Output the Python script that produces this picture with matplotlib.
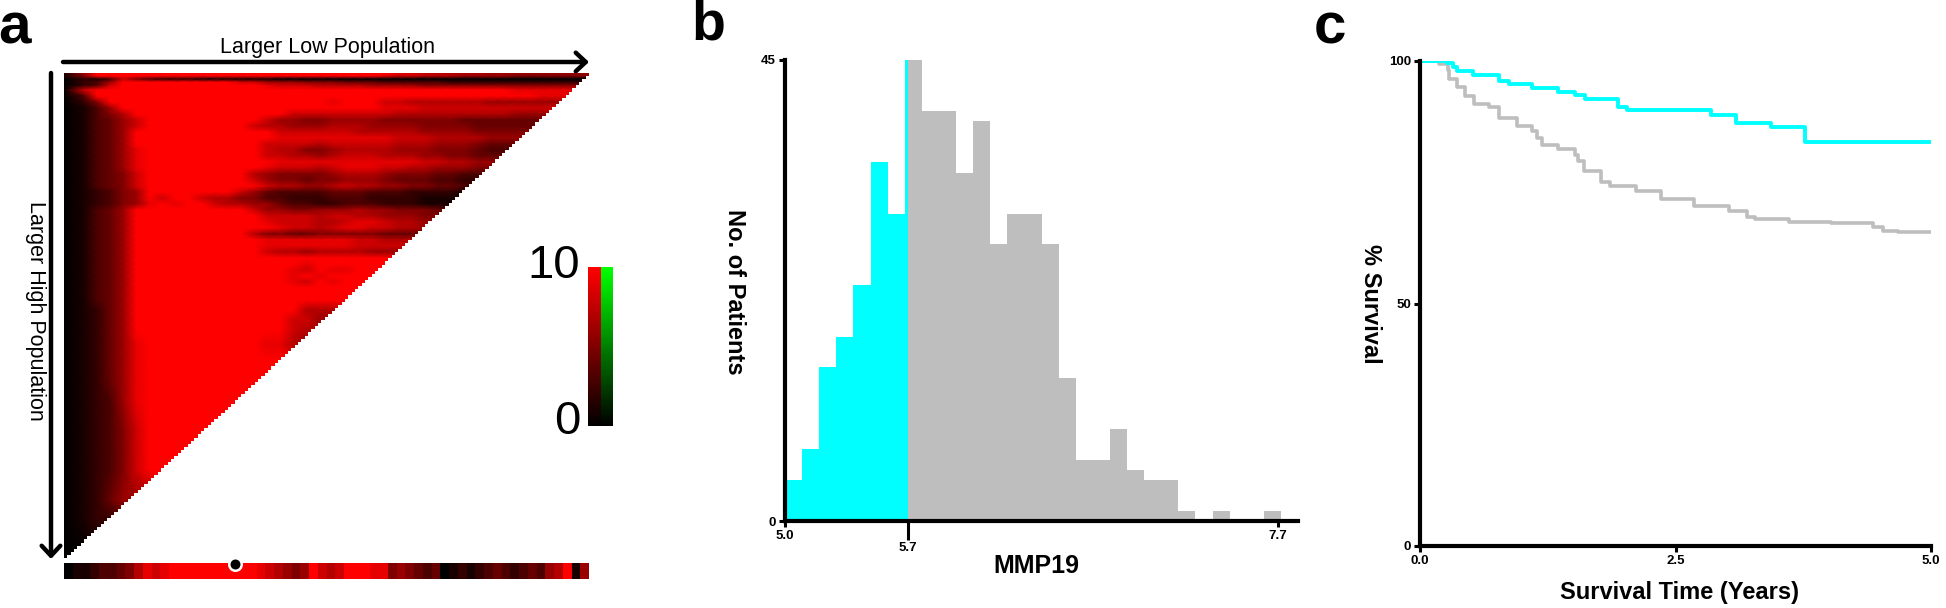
# ============================================
# Step 1. Import packages and set values
# ============================================

import numpy as np
import matplotlib
matplotlib.use("Agg")
import matplotlib.pyplot as plt
from matplotlib.colors import LinearSegmentedColormap
from matplotlib.patches import Polygon

plt.rcParams["font.family"] = ["Liberation Sans", "DejaVu Sans"]

fig_w = 1946
fig_h = 608

# Panel a: score (0-10) along each row, one char per column, A = 10
heat_rows = [
    "16AAAAAAAAAAAAAAAAAAAAAAA998877766666666",
    "15AAAAAAAAAAAAAAAAAAAAAA9887776666555555",
    "0213853222111111000000000000000000000000",
    "0236AAAAAAAAA886665554443333322222222222",
    "0238AAAAAAAAAAA9888777766665555555555555",
    "08AAAAAAAAAAAAAAAAAAAAAAAAAAAAAAAA999999",
    "03AAAAAAAAAAAAAAAAAAAAAAAAAAAAAAAAAA9999",
    "025AAAAAAAAAAAAAAAAA9AAA8877777766666666",
    "0136AAAAAAAAAAAAAAAAAAAA9998888888888888",
    "01357AAAAAAAAAAAA8888888877777777766666",
    "013468AAAAAAAAA866556666555555444444444",
    "013468AAAAAAAA8776667776666555544444444",
    "01346AAAAAAAAAAA8888887777766665555555",
    "01346AAAAAAAAAAA999999999888777766666",
    "01346AAAAAAAAAA88887888887776665444",
    "013469AAAAAAAAA87755677776665554333",
    "013469AAAAAAAAA8877678887776655444",
    "013469AAAAAAAAAA9999999999988776655",
    "013469AAAAAAAAA98887899988776665555",
    "013458AAAAAAAA7655556777655544333",
    "013458AAAAAAAA8655455666544433222",
    "013458AAAAAAAAA877667877665544322",
    "012356AAAAAAA8643333444333222211",
    "012356A8AA87755332223332222111",
    "0123569A9AA8776643322333222111",
    "01346AAAAAAAAA866556667665554",
    "01346AAAAAAAAAA8888788776665",
    "01346AAAAAAAAAA988877899877666",
    "01346AAAAAAAAAAA988789988776",
    "01346AAAAAAAAA755445555544",
    "01346AAAAAAAAAA9999999887",
    "01346AAAAAAAAAA999999988",
    "01346AAAAAAAAAA8776777766",
    "01346AAAAAAAAAAAAAAAAAAA",
    "01346AAAAAAAAAAAAA9AAAAA",
    "01346AAAAAAAAAAAA98A99AA",
    "01346AAAAAAAAAAAA9A9AAA",
    "01346AAAAAAAAAAAA98A9AA",
    "01346AAAAAAAAAAAAAAAAAA",
    "01346AAAAAAAAAAAAAAAAA",
    "01246AAAAAAAAAAAAA7778",
    "01246AAAAAAAAAAAA8866",
    "01246AAAAAAAAAAAA877",
    "012469AAAAAAAAA9976",
    "012469AAAAAAAAAAAA",
    "012469AAAAAAAAAA",
    "012369AAAAAAAAAA",
    "012358AAAAAAA",
    "012358AAAA",
    "01246",
    "012",
    "0",
]
heat_row_pos = [0, 1, 2, 3, 4, 5.5, 7.5, 9.4, 11.3, 13.3, 15.2, 17.2, 19.1, 21, 23,
                24.9, 26.9, 28.8, 30.7, 32.7, 34.6, 36.6, 38.5, 40.5, 42.4, 44.3,
                46.3, 48.2, 50.2, 52.1, 54, 56, 57.9, 59.9, 61.8, 63.8, 65.7, 67.6,
                69.6, 73.5, 76.7, 79.9, 83.2, 88, 92.9, 99.4, 105.8, 115.5, 128.5,
                138.2, 144.7, 157]
n_cutoffs = 157

strip_scores = "0112334579" + "89AAAAAAAA" + "AA987656A8" + "78AAA99565" + "4340121234" + "3234367A16"
best_cutoff = 51

# Panel b: MMP19 histogram
hist_start = 5.0
hist_width = 0.0937
mmp19_cut = 5.675
hist_counts = [4, 7, 15, 18, 23, 35, 30, 45, 40, 40, 34, 39, 27, 30, 30, 27, 14,
               6, 6, 9, 5, 4, 4, 1, 0, 1, 0, 0, 1]
mmp19_ticks = [5.0, mmp19_cut, 7.7]
mmp19_tick_labels = ["5.0", "5.7", "7.7"]

# Panel c: Kaplan-Meier curves
time_low = [0, .264, .32, .362, .517, .77, .867, 1.10, 1.353, 1.516, 1.614, 1.936,
            2.022, 2.85, 3.095, 3.433, 3.764, 5.0]
surv_low = [100, 99.5, 98.8, 97.9, 97.2, 95.8, 95.2, 94.4, 93.6, 93.0, 92.1, 90.6,
            89.8, 88.9, 87.2, 86.4, 83.4, 83.4]
time_high = [0, .187, .276, .284, .362, .44, .525, .673, .77, .775, .945, 1.10, 1.14,
             1.197, 1.353, 1.516, 1.55, 1.606, 1.77, 1.86, 2.11, 2.36, 2.68, 3.02,
             3.2, 3.28, 3.61, 4.02, 4.43, 4.53, 4.68, 5.0]
surv_high = [100, 99.4, 98.2, 96.3, 94.6, 92.7, 91.1, 90.6, 89.9, 88.3, 86.6, 85.6,
             84.2, 82.6, 81.8, 80.6, 79.4, 77.4, 75.0, 74.2, 73.2, 71.5, 70.2, 69.0,
             67.8, 67.4, 66.9, 66.6, 65.7, 65.0, 64.8, 64.8]

black_red = LinearSegmentedColormap.from_list("black_red", ["#000000", "#ff0000"])
black_green = LinearSegmentedColormap.from_list("black_green", ["#000000", "#00ff00"])
cyan = "#00ffff"
grey = "#bebebe"


def add_axes_px(left, top, right, bottom):
    return fig.add_axes([left / fig_w, 1 - bottom / fig_h,
                         (right - left) / fig_w, (bottom - top) / fig_h])


def text_px(x, y, s, **kwargs):
    kwargs.setdefault("ha", "center")
    kwargs.setdefault("va", "center")
    fig.text(x / fig_w, 1 - y / fig_h, s, **kwargs)


def arrow_px(x0, y0, x1, y1):
    ax_arrow.annotate("", xy=(x1, fig_h - y1), xytext=(x0, fig_h - y0),
                      xycoords="figure pixels", textcoords="figure pixels",
                      arrowprops=dict(arrowstyle="->,head_length=0.3,head_width=0.28",
                                      lw=3.2, color="black", shrinkA=0, shrinkB=0,
                                      mutation_scale=24))


def style_axis(ax):
    ax.spines["top"].set_visible(False)
    ax.spines["right"].set_visible(False)
    ax.spines["left"].set_linewidth(3)
    ax.spines["bottom"].set_linewidth(3)
    ax.patch.set_alpha(0)
    ax.tick_params(direction="out", length=4.5, width=2.2, labelsize=9.5, pad=2)
    for label in ax.get_xticklabels() + ax.get_yticklabels():
        label.set_fontweight("bold")


fig = plt.figure(figsize=(fig_w / 100, fig_h / 100), dpi=100)

ax_arrow = fig.add_axes([0, 0, 1, 1])
ax_arrow.axis("off")

# ============================================
# Step 2. Panel a, heat map triangle
# ============================================

n_cols = 40
heat = np.array([[int(c, 16) for c in row.ljust(n_cols, row[-1])] for row in heat_rows],
                dtype=float)
col_pos = (np.arange(n_cols) + 0.5) * n_cutoffs / n_cols
col_pos[0] = 0
col_pos[-1] = n_cutoffs

ax_heat = add_axes_px(64, 73, 589, 558)
ax_heat.pcolormesh(col_pos, heat_row_pos, heat, cmap=black_red, vmin=0, vmax=10,
                   shading="gouraud", rasterized=True)
ax_heat.set_xlim(0, n_cutoffs)
ax_heat.set_ylim(n_cutoffs, 0)
ax_heat.axis("off")

# blank the lower right half with a stair edge
stair = [(n_cutoffs, 0)]
for i in range(n_cutoffs):
    stair.append((n_cutoffs - i, i + 1))
    stair.append((n_cutoffs - i - 1, i + 1))
stair.append((n_cutoffs, n_cutoffs))
ax_heat.add_patch(Polygon(stair, closed=True, facecolor="white", edgecolor="none", zorder=3))

# score strip under the triangle
strip = np.array([[int(c, 16) for c in strip_scores]], dtype=float)
ax_strip = add_axes_px(64, 563, 589, 579)
ax_strip.pcolormesh(strip, cmap=black_red, vmin=0, vmax=10)
ax_strip.set_xlim(0, strip.shape[1])
ax_strip.set_ylim(0, 1)
ax_strip.axis("off")

ax_dot = add_axes_px(64, 558, 589, 580)
ax_dot.patch.set_alpha(0)
ax_dot.set_xlim(0, n_cutoffs)
ax_dot.set_ylim(1, 0)
ax_dot.axis("off")
ax_dot.plot([best_cutoff], [0.28], "o", ms=9, mfc="black", mec="white", mew=1.8, clip_on=False)

# colour key
key_levels = np.linspace(0, 10, 64).reshape(-1, 1)
ax_key_r = add_axes_px(588, 267, 600.5, 426)
ax_key_r.pcolormesh(key_levels, cmap=black_red, vmin=0, vmax=10)
ax_key_r.axis("off")
ax_key_g = add_axes_px(600.5, 267, 613, 426)
ax_key_g.pcolormesh(key_levels, cmap=black_green, vmin=0, vmax=10)
ax_key_g.axis("off")
text_px(580, 266, "10", fontsize=34, ha="right")
text_px(580, 422, "0", fontsize=34, ha="right")

arrow_px(63, 62, 589, 62)
arrow_px(51, 73, 51, 559)
text_px(328, 47, "Larger Low Population", fontsize=15.5)
text_px(35, 311, "Larger High Population", fontsize=15.5, rotation=270)

# ============================================
# Step 3. Panel b, MMP19 histogram
# ============================================

hist_edges = hist_start + np.arange(len(hist_counts) + 1) * hist_width
n_low = int((mmp19_cut - hist_start) // hist_width) + 1
low_edges = np.append(hist_edges[:n_low], mmp19_cut)
high_edges = np.insert(hist_edges[n_low:], 0, mmp19_cut)

ax_hist = add_axes_px(785, 60, 1298, 521)
ax_hist.stairs(hist_counts[:n_low], low_edges, fill=True, color=cyan, lw=0)
ax_hist.stairs(hist_counts[n_low - 1:], high_edges, fill=True, color=grey, lw=0)
ax_hist.set_xlim(5.0, 5.0 + 513 / 182.5)
ax_hist.set_ylim(0, 45)
ax_hist.set_xticks(mmp19_ticks)
ax_hist.set_xticklabels(mmp19_tick_labels)
ax_hist.set_yticks([0, 45])
style_axis(ax_hist)

# the cut point tick and label sit lower
ax_hist.xaxis.get_major_ticks()[1].tick1line.set_markersize(13.5)
ax_hist.get_xticklabels()[1].set_y(-0.026)

text_px(1036, 566, "MMP19", fontsize=18, fontweight="bold")
text_px(735, 292, "No. of Patients", fontsize=17, fontweight="bold", rotation=270)

# ============================================
# Step 4. Panel c, survival curves
# ============================================

ax_surv = add_axes_px(1420, 61, 1931, 546)
ax_surv.plot(time_high, surv_high, drawstyle="steps-post", color=grey, lw=2.6)
ax_surv.plot(time_low, surv_low, drawstyle="steps-post", color=cyan, lw=2.8)
ax_surv.set_xlim(0, 5)
ax_surv.set_ylim(0, 100)
ax_surv.set_xticks([0, 2.5, 5])
ax_surv.set_xticklabels(["0.0", "2.5", "5.0"])
ax_surv.set_yticks([0, 50, 100])
style_axis(ax_surv)

text_px(1679, 592, "Survival Time (Years)", fontsize=17, fontweight="bold")
text_px(1371, 304, "% Survival", fontsize=17, fontweight="bold", rotation=270)

# ============================================
# Step 5. Panel letters and save
# ============================================

text_px(15, 28, "a", fontsize=42, fontweight="bold")
text_px(708, 26, "b", fontsize=40, fontweight="bold")
text_px(1330, 28, "c", fontsize=42, fontweight="bold")

fig.savefig("out.png", dpi=100, facecolor="white")
